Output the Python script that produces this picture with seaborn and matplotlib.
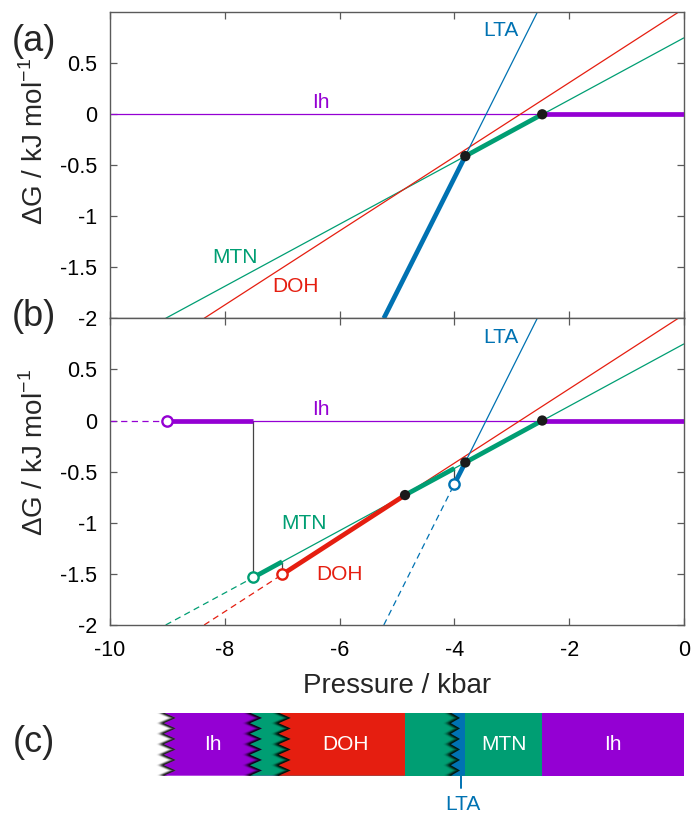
import numpy as np
import matplotlib
matplotlib.use('Agg')
import matplotlib.pyplot as plt
import seaborn as sns

# ---- data (pressure in kbar, free energy in kJ/mol) ----
colors = {'Ih': '#9400D3', 'MTN': '#009E73', 'DOH': '#E51E10', 'LTA': '#0072B2'}

# full lines, endpoints where they leave the plotted window
line_phase = ['Ih', 'MTN', 'DOH', 'LTA']
line_P = [[-10.0, 0.0], [-9.03, 0.0], [-8.36, -0.10], [-5.23, -2.556]]
line_G = [[0.0, 0.0], [-2.0, 0.75], [-2.0, 1.0], [-2.0, 1.0]]

# (a) stable branches
thick_a_phase = ['LTA', 'MTN', 'Ih']
thick_a_P = [[-5.23, -3.81], [-3.81, -2.47], [-2.47, 0.0]]
thick_a_G = [[-2.0, -0.41], [-0.41, 0.0], [0.0, 0.0]]
dots_a_P = [-3.81, -2.47]
dots_a_G = [-0.41, 0.0]

# (b) thin lines start at the open circles, dashed before them
thin_b_P = [[-9.0, 0.0], [-7.5, 0.0], [-7.0, -0.10], [-4.0, -2.556]]
thin_b_G = [[0.0, 0.0], [-1.534, 0.75], [-1.506, 1.0], [-0.62, 1.0]]
dash_b_P = [[-10.0, -9.0], [-9.03, -7.5], [-8.36, -7.0], [-5.23, -4.0]]
dash_b_G = [[0.0, 0.0], [-2.0, -1.534], [-2.0, -1.506], [-2.0, -0.62]]
thick_b_phase = ['Ih', 'MTN', 'DOH', 'MTN', 'LTA', 'MTN', 'Ih']
thick_b_P = [[-9.0, -7.5], [-7.5, -7.0], [-7.0, -4.86], [-4.86, -4.0],
             [-4.0, -3.81], [-3.81, -2.47], [-2.47, 0.0]]
thick_b_G = [[0.0, 0.0], [-1.534, -1.381], [-1.506, -0.729], [-0.729, -0.468],
             [-0.62, -0.41], [-0.41, 0.0], [0.0, 0.0]]
conn_b_P = [[-7.5, -7.5], [-7.0, -7.0], [-4.0, -4.0]]
conn_b_G = [[0.0, -1.534], [-1.381, -1.506], [-0.468, -0.62]]
open_b_phase = ['Ih', 'MTN', 'DOH', 'LTA']
open_b_P = [-9.0, -7.5, -7.0, -4.0]
open_b_G = [0.0, -1.534, -1.506, -0.62]
dots_b_P = [-4.86, -3.81, -2.47]
dots_b_G = [-0.729, -0.41, 0.0]

# text labels in the plots
lab_a = [('LTA', -3.19, 0.818), ('Ih', -6.33, 0.12), ('MTN', -7.82, -1.404), ('DOH', -6.77, -1.69)]
lab_b = [('LTA', -3.19, 0.81), ('Ih', -6.33, 0.11), ('MTN', -6.62, -1.007), ('DOH', -6.01, -1.505)]

# (c) sequence of phases along pressure
bar_edges = [-9.0, -7.5, -7.0, -4.86, -4.0, -3.81, -2.47, 0.0]
bar_phase = ['Ih', 'MTN', 'DOH', 'MTN', 'LTA', 'MTN', 'Ih']
bar_zig = [True, True, True, False, True, False, False]
bar_text = [('Ih', -8.2), ('DOH', -5.9), ('MTN', -3.14), ('Ih', -1.235)]
lta_mark = -3.88

xticks = [-10, -8, -6, -4, -2, 0]
xticklabels = ['-10', '-8', '-6', '-4', '-2', '0']
yticks = [-2, -1.5, -1, -0.5, 0, 0.5]
yticklabels = ['-2', '-1.5', '-1', '-0.5', '0', '0.5']

# ---- style ----
sns.set_theme(style='ticks')
plt.rcParams['font.family'] = ['Liberation Sans', 'DejaVu Sans']
plt.rcParams['mathtext.fontset'] = 'custom'
plt.rcParams['mathtext.rm'] = 'Liberation Sans'
plt.rcParams['axes.unicode_minus'] = False
spine_c = '#5a5a5a'

W, H = 695, 815
fig = plt.figure(figsize=(W / 100, H / 100), dpi=100)


def box(l, t, r, b):
    return [l / W, 1 - b / H, (r - l) / W, (b - t) / H]


ax_a = fig.add_axes(box(110, 12.3, 684, 318.3))
ax_b = fig.add_axes(box(110, 318.3, 684, 625))
ax_c = fig.add_axes(box(110, 712.7, 684, 775.7))


def seg(ax, P, G, color, lw, ls='-', z=2):
    sns.lineplot(x=P, y=G, ax=ax, color=color, lw=lw, linestyle=ls, estimator=None,
                 sort=False, legend=False, zorder=z, solid_capstyle='butt',
                 dash_capstyle='butt')


def frame(ax, bottom_labels):
    ax.set_xlim(-10, 0)
    ax.set_ylim(-2, 1)
    ax.set_xticks(xticks)
    ax.set_yticks(yticks)
    ax.set_yticklabels(yticklabels)
    if bottom_labels:
        ax.set_xticklabels(xticklabels)
    ax.tick_params(direction='in', length=5, width=0.9, color=spine_c, top=True, right=True,
                   labelsize=15.5, labelcolor='black')
    ax.tick_params(axis='y', pad=9.5)
    ax.tick_params(axis='x', pad=11, labelbottom=bottom_labels)
    for s in ax.spines.values():
        s.set_color(spine_c)
        s.set_linewidth(1.0)
    ax.set_xlabel('')
    ax.set_ylabel('')


thin_lw, thick_lw, dash = 0.9, 3.4, (0, (5, 3.5))

# ---- (a) ----
for ph, P, G in zip(line_phase, line_P, line_G):
    seg(ax_a, P, G, colors[ph], thin_lw)
for ph, P, G in zip(thick_a_phase, thick_a_P, thick_a_G):
    seg(ax_a, P, G, colors[ph], thick_lw, z=3)
sns.scatterplot(x=dots_a_P, y=dots_a_G, ax=ax_a, color='#1a1a1a', s=55, edgecolor='none', zorder=5)
for name, p, g in lab_a:
    ax_a.text(p, g, name, color=colors[name], fontsize=15, ha='center', va='center')
frame(ax_a, False)

# ---- (b) ----
for ph, P, G in zip(line_phase, thin_b_P, thin_b_G):
    seg(ax_b, P, G, colors[ph], thin_lw)
for ph, P, G in zip(line_phase, dash_b_P, dash_b_G):
    seg(ax_b, P, G, colors[ph], thin_lw, ls=dash)
for P, G in zip(conn_b_P, conn_b_G):
    seg(ax_b, P, G, '#444444', 0.9, z=2.5)
for ph, P, G in zip(thick_b_phase, thick_b_P, thick_b_G):
    seg(ax_b, P, G, colors[ph], thick_lw, z=3)
for ph, p, g in zip(open_b_phase, open_b_P, open_b_G):
    sns.scatterplot(x=[p], y=[g], ax=ax_b, color='white', edgecolor=colors[ph],
                    linewidth=1.7, s=55, zorder=6)
sns.scatterplot(x=dots_b_P, y=dots_b_G, ax=ax_b, color='#1a1a1a', s=55, edgecolor='none', zorder=5)
for name, p, g in lab_b:
    ax_b.text(p, g, name, color=colors[name], fontsize=15, ha='center', va='center')
frame(ax_b, True)
ax_b.text(0.5, -0.2207, 'Pressure / kbar', transform=ax_b.transAxes, ha='center',
          va='baseline', fontsize=20)

ylab = 'ΔG / kJ mol$^{\\mathregular{-1}}$'
for ax, yc in [(ax_a, 0.577), (ax_b, 0.561)]:
    ax.text(-0.1172, yc, ylab, transform=ax.transAxes, rotation=90, rotation_mode='anchor',
            ha='center', va='baseline', fontsize=20)

# ---- (c) ----
ax_c.set_xlim(-10, 0)
ax_c.set_ylim(0, 1)
ax_c.axis('off')
end = bar_edges[-1]
for i, ph in enumerate(bar_phase):
    b = bar_edges[i]
    if bar_zig[i]:
        hi = 0.10 if ph == 'LTA' else 0.15
        n = 6
        ys = np.linspace(1, 0, 2 * n + 1)
        xs = np.where(np.arange(2 * n + 1) % 2 == 0, b - 0.06, b + hi)
        # soft shadow on the left of the jagged edge
        for k in range(12):
            ax_c.plot(xs - k * 0.012, ys, color='black', alpha=0.42 * (1 - k / 12) ** 2,
                      lw=1.4, solid_capstyle='butt', solid_joinstyle='round', zorder=2 + i)
        px = list(xs) + [end, end]
        py = list(ys) + [0, 1]
    else:
        px = [b, b, end, end]
        py = [1, 0, 0, 1]
    ax_c.fill(px, py, color=colors[ph], lw=0, zorder=2.5 + i)
for name, p in bar_text:
    ax_c.text(p, 0.5, name, color='white', fontsize=15, ha='center', va='center', zorder=20)
ax_c.plot([lta_mark, lta_mark], [0, -0.195], color=colors['LTA'], lw=1.4, clip_on=False, zorder=20)
ax_c.text(lta_mark + 0.03, -0.465, 'LTA', color=colors['LTA'], fontsize=15, ha='center',
          va='center', clip_on=False)

# panel letters
for lab, yc in [('(a)', 41.7), ('(b)', 316.7), ('(c)', 742)]:
    fig.text(33.8 / W, 1 - yc / H, lab, fontsize=26, ha='center', va='center')

fig.savefig('out.png', dpi=100)
